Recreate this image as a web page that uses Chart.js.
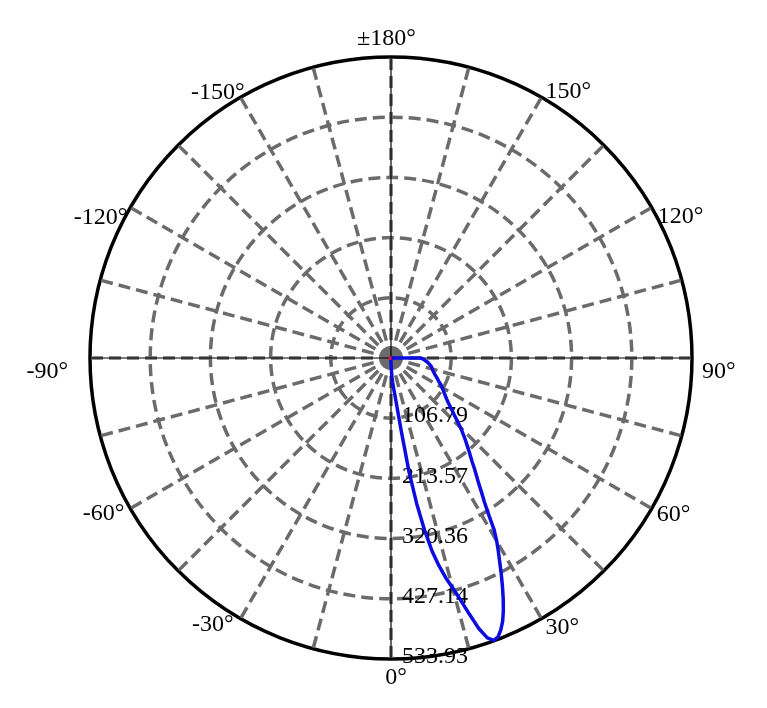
<!DOCTYPE html>
<html>
<head>
<meta charset="utf-8">
<script src="https://cdn.jsdelivr.net/npm/chart.js@4/dist/chart.umd.min.js"></script>
<style>
html, body { margin: 0; padding: 0; background: #ffffff; }
#wrap { width: 767px; height: 708px; position: relative; }
</style>
</head>
<body>
<div id="wrap"><canvas id="c"></canvas></div>
<script>
// ---- data ----
// angles (degrees) where the curve is away from the centre
const lobeAngles = [
  0,1,2,3,4,5,6,7,8,9,10,11,12,13,14,15,16,17,18,19,20,
  21,22,23,24,25,26,27,28,29,30,31,32,33,34,35,36,37,38,39,40,
  41,42,43,44,45,46,47,48,49,50,51,52,53,54,55,56,57,58,59,60,
  61,62,63,64,65,66,67,68,69,70,71,72,73,74,75,76,77,78,79,80,
  81,82,83,84,85,86,87,88,89,90
];
const lobeIntensity = [
  8,15,24,34,44,55,66,88,130,205,262,310,350,378,402,422,446,475,505,525,533,
  530,520,507,490,471,451,431,411,393,375,355,326,304,287,271,258,246,234,224,215,
  206,198,190,182,174,166,158,151,145,139,134,129,125,121,118,115,112,110,107,105,
  102,100,97,94,92,90,88,86,84,82,81,79,78,77,76,75,74,73,72,70,
  69,67,66,64,62,61,59,57,55,52
];
const radialTicks = [0, 106.79, 213.57, 320.36, 427.14, 533.93];
const radialTickLabels = ['0', '106.79', '213.57', '320.36', '427.14', '533.93'];
const angleLabelAngles = [0, 30, 60, 90, 120, 150, 180, -150, -120, -90, -60, -30];
const angleLabelTexts = ['0°', '30°', '60°', '90°', '120°', '150°', '±180°', '-150°', '-120°', '-90°', '-60°', '-30°'];
const spokeStep = 15;

// categories: one per degree, clockwise from the top (180 at top, 90 right, 0 bottom, -90 left)
const categories = [];
for (let i = 0; i < 360; i++) categories.push(180 - i);
const idxOf = (a) => categories.indexOf(a === -180 ? 180 : a);
const seriesValues = categories.map(a => {
  const k = lobeAngles.indexOf(a);
  return k >= 0 ? lobeIntensity[k] : 0;
});

// label placement relative to the outer circle point: [align, dx, dy]
const labelPlacement = {
  '0': ['center', 5, 19], '30': ['left', 4, 9], '60': ['left', 5, 6], '90': ['left', 10, 14],
  '120': ['left', 6, 9], '150': ['left', 4, -6], '180': ['center', -4.5, -18],
  '-150': ['right', 4, -5], '-120': ['right', -3, 10], '-90': ['right', -22, 14],
  '-60': ['right', -6, 5], '-30': ['right', -7, 6]
};

const GRID = '#6b6b6b';
const FONT = '24px "Liberation Serif", "Times New Roman", serif';

const polarDecor = {
  id: 'polarDecor',
  beforeDatasetsDraw(chart) {
    const s = chart.scales.r;
    const ctx = chart.ctx;
    const R = s.getDistanceFromCenterForValue(s.max);
    ctx.save();
    // thin black main axes
    ctx.strokeStyle = '#000';
    ctx.lineWidth = 1.2;
    [0, 90, 180, -90].forEach(a => {
      const p = s.getPointPosition(idxOf(a), R);
      ctx.beginPath();
      ctx.moveTo(s.xCenter, s.yCenter);
      ctx.lineTo(p.x, p.y);
      ctx.stroke();
    });
    // radial tick labels along the 0° direction
    ctx.font = FONT;
    ctx.fillStyle = '#000';
    ctx.textAlign = 'left';
    ctx.textBaseline = 'middle';
    radialTicks.forEach((v, k) => {
      if (k === 0) return;
      const p = s.getPointPosition(idxOf(0), s.getDistanceFromCenterForValue(v));
      ctx.fillText(radialTickLabels[k], p.x + 11, p.y - 2);
    });
    ctx.restore();
  },
  afterDatasetsDraw(chart) {
    const s = chart.scales.r;
    const ctx = chart.ctx;
    const R = s.getDistanceFromCenterForValue(s.max);
    ctx.save();
    // small red marker at the centre
    ctx.fillStyle = '#d8143c';
    ctx.fillRect(s.xCenter - 2.5, s.yCenter - 2, 3, 4);
    // angle labels
    ctx.font = FONT;
    ctx.fillStyle = '#000';
    ctx.textBaseline = 'middle';
    angleLabelAngles.forEach((a, k) => {
      const pl = labelPlacement[String(a)];
      const p = s.getPointPosition(idxOf(a), R);
      ctx.textAlign = pl[0];
      ctx.fillText(angleLabelTexts[k], p.x + pl[1], p.y + pl[2]);
    });
    ctx.restore();
  }
};

new Chart(document.getElementById('c'), {
  type: 'radar',
  data: {
    labels: categories,
    datasets: [{
      data: seriesValues,
      borderColor: '#0c0ce0',
      borderWidth: 3.5,
      borderJoinStyle: 'round',
      pointRadius: 0,
      pointHoverRadius: 0,
      fill: false,
      tension: 0
    }]
  },
  options: {
    responsive: true,
    maintainAspectRatio: false,
    animation: false,
    devicePixelRatio: 1,
    layout: { padding: { left: 90, right: 75, top: 57, bottom: 49 } },
    plugins: { legend: { display: false }, tooltip: { enabled: false } },
    scales: {
      r: {
        min: 0,
        max: 533.93,
        startAngle: 0,
        afterBuildTicks: (sc) => { sc.ticks = radialTicks.map(v => ({ value: v })); },
        ticks: { display: false },
        pointLabels: { display: false },
        grid: {
          circular: true,
          color: (c) => c.index === radialTicks.length - 1 ? '#000000' : GRID,
          lineWidth: 3.5
        },
        border: {
          dash: (c) => c.index === radialTicks.length - 1 ? [] : [12, 6]
        },
        angleLines: {
          display: true,
          color: (c) => (categories[c.index] % spokeStep === 0) ? GRID : 'rgba(0,0,0,0)',
          lineWidth: (c) => (categories[c.index] % spokeStep === 0) ? 3.5 : 0,
          borderDash: [12, 6]
        }
      }
    }
  },
  plugins: [polarDecor]
});
</script>
</body>
</html>
